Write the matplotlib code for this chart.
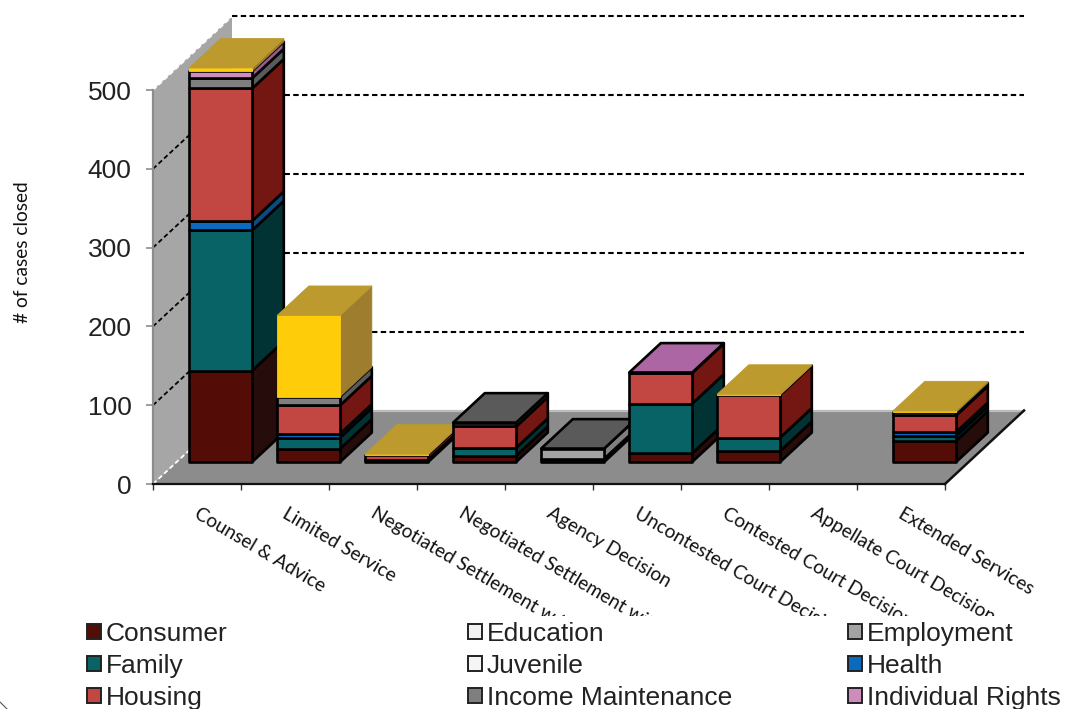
import matplotlib
matplotlib.use("Agg")
import matplotlib.pyplot as plt
from matplotlib.patches import Polygon, Patch
from matplotlib.lines import Line2D
from matplotlib.transforms import Bbox

categories = ["Counsel & Advice", "Limited Service", "Negotiated Settlement w/o Litigation",
              "Negotiated Settlement with Litigation", "Agency Decision",
              "Uncontested Court Decision", "Contested Court Decision",
              "Appellate Court Decision", "Extended Services"]
consumer   = [116, 17, 3, 8, 4, 11, 14, 0, 27]
education  = [0, 0, 0, 0, 0, 0, 0, 0, 0]
employment = [0, 0, 0, 0, 13, 0, 0, 0, 0]
family     = [178, 14, 0, 10, 0, 63, 17, 0, 6]
juvenile   = [0, 0, 0, 0, 0, 0, 0, 0, 0]
health     = [12, 5, 0, 0, 0, 0, 0, 0, 5]
housing    = [168, 36, 6, 27, 0, 39, 54, 0, 21]
income     = [13, 11, 0, 5, 0, 0, 0, 0, 4]
individual = [9, 0, 0, 0, 0, 0.5, 0, 0, 0]
other      = [4, 103, 1, 0, 0, 0, 1, 0, 2]
y_ticks = [0, 100, 200, 300, 400, 500]

series = [
    ("Consumer", consumer, "#540D06", "#260C0A", "#3a0a05", "black"),
    ("Education", education, "#F2F2F2", "#BFBFBF", "#D9D9D9", "black"),
    ("Employment", employment, "#A3A3A3", "#7F7F7F", "#5A5A5A", "black"),
    ("Family", family, "#076366", "#023334", "#044A4C", "black"),
    ("Juvenile", juvenile, "#F5F5F5", "#BFBFBF", "#D9D9D9", "black"),
    ("Health", health, "#0B6ABD", "#0E4A80", "#0E4A80", "black"),
    ("Housing", housing, "#C24641", "#741612", "#8F1F1A", "black"),
    ("Income Maintenance", income, "#7F7F7F", "#5A5A5A", "#5A5A5A", "black"),
    ("Individual Rights", individual, "#CD8CBC", "#9A5A90", "#AB66A3", "black"),
    ("Other", other, "#FFCC0A", "#9E7E2E", "#BC9A2E", None),
]

W, H = 1067, 709
X0, X1 = 153, 945          # pixel span of the category axis
Y0, Y500 = 484, 90         # pixel span of the value axis
SX = (X1 - X0) / 9
SY = (Y0 - Y500) / 500
DX = 79 / SX               # depth vector in data units
DY = 73.5 / SY
BAR_W = 0.716
D_FRONT, D_BACK = 0.30, 0.70
EDGE_LW = 1.9


def proj(x, v, d):
    return (x + d * DX, v + d * DY)


plt.rcParams["font.family"] = ["Liberation Sans", "DejaVu Sans"]
fig = plt.figure(figsize=(W / 100, H / 100), dpi=100)
ax = fig.add_axes([0, 0, 1, 1])
ax.set_xlim(-X0 / SX, (W - X0) / SX)
ax.set_ylim((Y0 - H) / SY, Y0 / SY)
ax.patch.set_visible(False)

# wall and floor
top = y_ticks[-1]
ax.add_patch(Polygon([proj(0, 0, 0), proj(0, top, 0), proj(0, top, 1), proj(0, 0, 1)],
                     fc="#A6A6A6", ec="none", zorder=1))
ax.add_patch(Polygon([proj(0, 0, 0), proj(0, 0, 1), proj(9, 0, 1), proj(9, 0, 0)],
                     fc="#8C8C8C", ec="none", zorder=1))
ax.plot(*zip(proj(0, 0, 1), proj(9, 0, 1)), color="#BDBDBD", lw=1.6, zorder=1.5)
ax.plot(*zip(proj(9, 0, 0), proj(9, 0, 1)), color="#111111", lw=1.8, zorder=1.5)

# gridlines on wall and back plane
for v in y_ticks:
    wall_color = "white" if v in (0, top) else "black"
    ax.plot(*zip(proj(0, v, 0), proj(0, v, 1)), color=wall_color, lw=1.3,
            dashes=(2.6, 1.6), zorder=2)
    if v > 0:
        ax.plot(*zip(proj(0, v, 1), proj(9, v, 1)), color="black", lw=1.5,
                dashes=(2.6, 1.6), zorder=2)

# stacked 3-D bars, painted left to right and bottom to top
for i in range(len(categories)):
    left = i + 0.5 - BAR_W / 2
    right = i + 0.5 + BAR_W / 2
    base = 0
    z = 3 + i
    present = [s for s in series if s[1][i] > 0]
    for name, vals, front, side, topc, edge in present:
        v = vals[i]
        ec = edge if edge else front
        lw = EDGE_LW if edge else 0.6
        ax.add_patch(Polygon([proj(right, base, D_FRONT), proj(right, base, D_BACK),
                              proj(right, base + v, D_BACK), proj(right, base + v, D_FRONT)],
                             fc=side, ec=ec if edge else side, lw=lw, joinstyle="round", zorder=z))
        ax.add_patch(Polygon([proj(left, base, D_FRONT), proj(right, base, D_FRONT),
                              proj(right, base + v, D_FRONT), proj(left, base + v, D_FRONT)],
                             fc=front, ec=ec, lw=lw, joinstyle="round", zorder=z))
        base += v
    if present:
        _, _, _, _, topc, edge = present[-1]
        ax.add_patch(Polygon([proj(left, base, D_FRONT), proj(right, base, D_FRONT),
                              proj(right, base, D_BACK), proj(left, base, D_BACK)],
                             fc=topc, ec=edge if edge else topc, lw=EDGE_LW if edge else 0.6,
                             joinstyle="round", zorder=z))

# axes
for s in ("top", "right"):
    ax.spines[s].set_visible(False)
ax.spines["left"].set_position(("data", 0))
ax.spines["left"].set_bounds(0, top)
ax.spines["left"].set_color("#8C8C8C")
ax.spines["left"].set_linewidth(1.6)
ax.spines["bottom"].set_position(("data", 0))
ax.spines["bottom"].set_bounds(0, 9)
ax.spines["bottom"].set_color("#111111")
ax.spines["bottom"].set_linewidth(1.6)
ax.set_yticks(y_ticks)
ax.tick_params(axis="y", length=5, width=1.2, color="#8C8C8C", pad=10.5, labelsize=19,
               labelcolor="#222222")
ax.set_xticks(range(10))
ax.set_xticklabels([])
ax.tick_params(axis="x", which="major", length=4.5, width=1, color="#333333")
ax.set_xticks([i + 0.54 for i in range(9)], minor=True)
ax.set_xticklabels(categories, minor=True, rotation=-30.5, ha="left", va="top",
                   rotation_mode="anchor", family=["Lato", "DejaVu Sans"], fontsize=13.8,
                   color="#111111")
ax.tick_params(axis="x", which="minor", length=0, pad=15)
clip = Bbox([[0, 709 - 616], [W, 709 - 480]])
for t in ax.get_xticklabels(minor=True):
    t.set_clip_box(clip)
    t.set_clip_on(True)

ax.set_ylabel("# of cases closed", family=["Lato", "DejaVu Sans"], fontsize=13.8, color="#111111")
ax.yaxis.set_label_coords(31 / W, 1 - 252 / H)

# legend: three independent columns
by_name = {s[0]: s for s in series}
columns = [(["Consumer", "Family", "Housing"], 87),
           (["Education", "Juvenile", "Income Maintenance"], 468),
           (["Employment", "Health", "Individual Rights"], 848)]
for names, px in columns:
    handles = [Patch(fc=by_name[n][2], ec="#222222", lw=1.4, label=n) for n in names]
    leg = ax.legend(handles=handles, loc="upper left", frameon=False, fontsize=19,
                    bbox_to_anchor=(px / W, 1 - 622 / H), bbox_transform=fig.transFigure,
                    handlelength=0.52, handleheight=0.52, handletextpad=0.19,
                    labelspacing=0.3, borderpad=0, borderaxespad=0,
                    labelcolor="#222222")
    ax.add_artist(leg)
ax.legend_ = None

# corner of the chart frame
fig.add_artist(Line2D([0, 7 / W], [1 - 702 / H, 1 - 709 / H],
                      color="#555555", lw=0.8, transform=fig.transFigure))

fig.savefig("out.png", dpi=100)
